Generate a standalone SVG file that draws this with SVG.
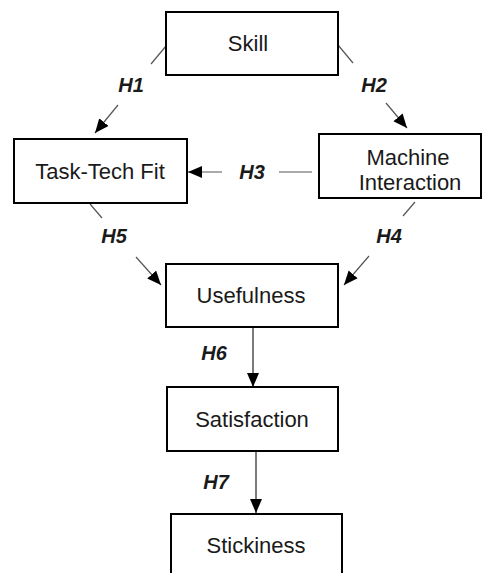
<svg xmlns="http://www.w3.org/2000/svg" width="483" height="573" viewBox="0 0 483 573">
<style>
.box{fill:#fff;stroke:#000;stroke-width:2}
.t{font-family:"Liberation Sans",Arial,sans-serif;font-size:22px;fill:#1a1a1a;text-anchor:middle}
.h{font-family:"Liberation Sans",Arial,sans-serif;font-size:20px;font-weight:bold;font-style:italic;fill:#1a1a1a;text-anchor:middle}
.c{stroke:#555;stroke-width:1.2;fill:none}
.v{stroke:#222;stroke-width:1.2;fill:none}
</style>
<defs>
<marker id="ah" markerUnits="userSpaceOnUse" markerWidth="15" markerHeight="13" refX="14" refY="6" orient="auto" viewBox="0 0 15 13">
<path d="M0,0 L14,6 L0,12 z" fill="#000"/>
</marker>
</defs>
<rect width="483" height="573" fill="#fff"/>
<g id="connectors">
<line class="c" x1="166" y1="46" x2="151" y2="64"/>
<line class="c" x1="118" y1="105" x2="95" y2="133" marker-end="url(#ah)"/>
<line class="c" x1="338" y1="45" x2="353" y2="63"/>
<line class="c" x1="386" y1="103" x2="407" y2="128" marker-end="url(#ah)"/>
<line class="c" x1="312" y1="172" x2="279" y2="172"/>
<line class="c" x1="222" y1="172" x2="188" y2="172" marker-end="url(#ah)"/>
<line class="c" x1="90" y1="204" x2="102" y2="218"/>
<line class="c" x1="136" y1="257" x2="161" y2="285" marker-end="url(#ah)"/>
<line class="c" x1="415" y1="202" x2="403" y2="216"/>
<line class="c" x1="369" y1="256" x2="344" y2="285" marker-end="url(#ah)"/>
<line class="v" x1="253" y1="327" x2="253" y2="387" marker-end="url(#ah)"/>
<line class="v" x1="256" y1="451" x2="256" y2="513" marker-end="url(#ah)"/>
<text class="h" x="131" y="92">H1</text>
<text class="h" x="374" y="92">H2</text>
<text class="h" x="252" y="179">H3</text>
<text class="h" x="389" y="243">H4</text>
<text class="h" x="114" y="243">H5</text>
<text class="h" x="214" y="360">H6</text>
<text class="h" x="216" y="489">H7</text>
</g>
<g id="skill">
<rect class="box" x="166" y="12" width="172" height="63"/>
<text class="t" x="248" y="51">Skill</text>
</g>
<g id="ttf">
<rect class="box" x="14" y="139" width="173" height="64"/>
<text class="t" x="100" y="179">Task-Tech Fit</text>
</g>
<g id="mi">
<rect class="box" x="319" y="134" width="162" height="64"/>
<text class="t" x="408" y="165">Machine</text>
<text class="t" x="410" y="190">Interaction</text>
</g>
<g id="usefulness">
<rect class="box" x="166" y="264" width="172" height="63"/>
<text class="t" x="251" y="303">Usefulness</text>
</g>
<g id="satisfaction">
<rect class="box" x="167" y="387" width="171" height="64"/>
<text class="t" x="252" y="427">Satisfaction</text>
</g>
<g id="stickiness">
<rect class="box" x="171" y="514" width="171" height="64"/>
<text class="t" x="256" y="553">Stickiness</text>
</g>
</svg>
